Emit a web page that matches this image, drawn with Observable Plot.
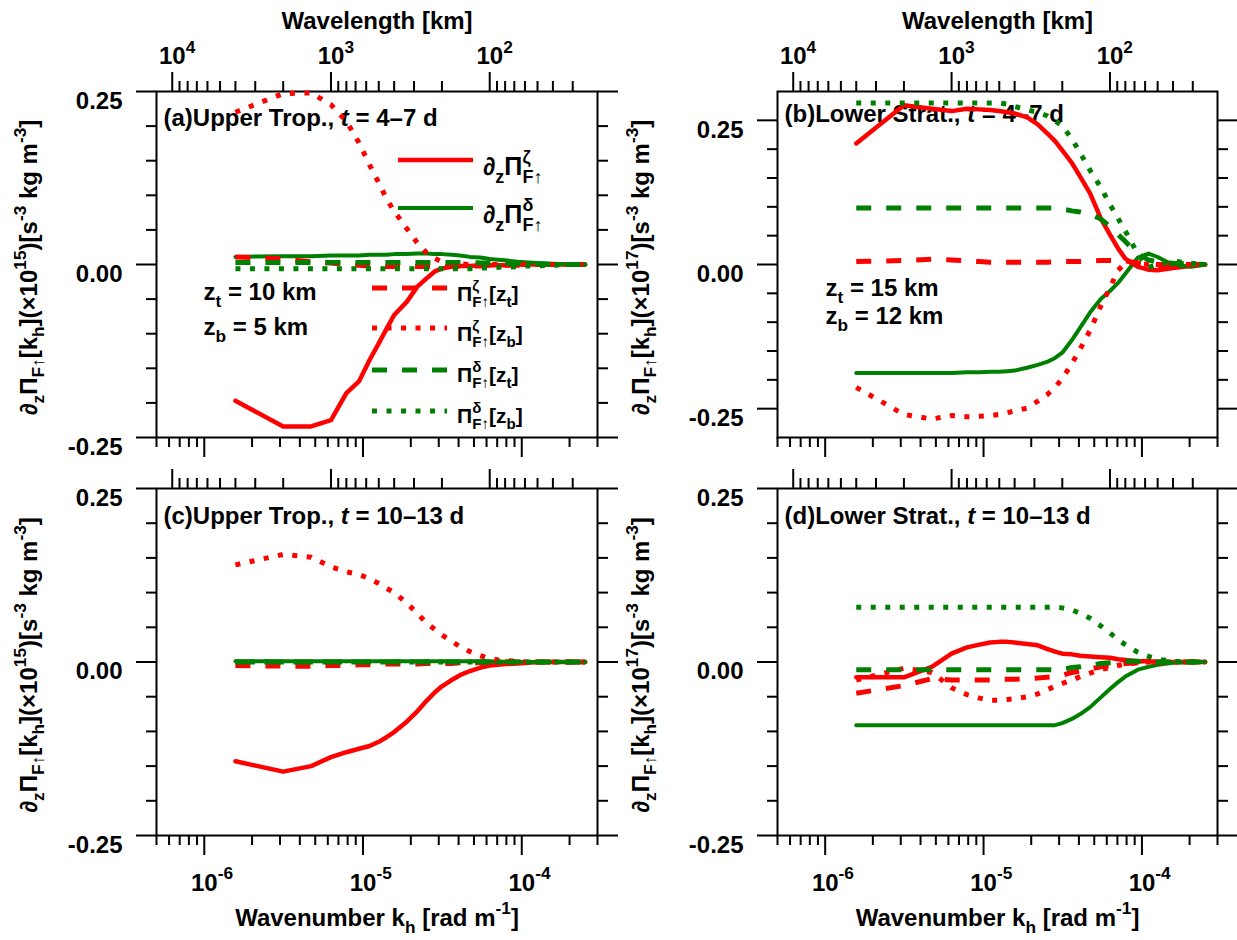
<!DOCTYPE html>
<html>
<head>
<meta charset="utf-8">
<script src="https://cdn.jsdelivr.net/npm/d3@7"></script>
<script src="https://cdn.jsdelivr.net/npm/@observablehq/plot@0.6"></script>
<style>
  html, body { margin: 0; padding: 0; background: #fff; }
  #fig { position: relative; width: 1237px; height: 940px; overflow: hidden; background: #fff; }
  #fig svg { position: absolute; }
</style>
</head>
<body>
<div id="fig"></div>
<script>
// ---- horizontal wavenumber grid (rad m^-1): harmonics of a 4000 km domain ----
const kh = [1.5708e-6, 3.1416e-6, 4.7124e-6, 6.2832e-6, 7.854e-6, 9.4248e-6, 1.09956e-5, 1.25664e-5,
  1.41372e-5, 1.5708e-5, 1.88496e-5, 2.19911e-5, 2.51327e-5, 2.82743e-5, 3.14159e-5, 3.61283e-5,
  4.08407e-5, 4.71239e-5, 5.49779e-5, 6.28319e-5, 7.06858e-5, 7.85398e-5, 9.42478e-5, 1.09956e-4,
  1.25664e-4, 1.5708e-4, 2.04204e-4, 2.51327e-4];

// ---- (a) upper troposphere, t = 4-7 d  (x 1e-15) ----
const aDzZeta  = [-0.197, -0.234, -0.234, -0.225, -0.186, -0.169, -0.138, -0.114, -0.092, -0.073, -0.054, -0.032, -0.020, -0.010, -0.006, -0.003, -0.002, -0.002, -0.001, -0.001, -0.001, -0.001, 0, 0, 0, 0, 0, 0];
const aDzDelta = [0.011, 0.012, 0.012, 0.013, 0.013, 0.013, 0.014, 0.014, 0.014, 0.015, 0.015, 0.016, 0.016, 0.015, 0.015, 0.014, 0.013, 0.011, 0.010, 0.008, 0.007, 0.006, 0.004, 0.003, 0.002, 0.001, 0.0003, 0];
const aZetaTop = [0.011, 0.008, 0.004, 0.002, 0.000, -0.001, -0.002, -0.002, -0.003, -0.003, -0.003, -0.003, -0.003, -0.003, -0.003, -0.003, -0.002, -0.002, -0.002, -0.001, -0.001, -0.001, -0.001, 0, 0, 0, 0, 0];
const aZetaBot = [0.220, 0.247, 0.248, 0.231, 0.207, 0.176, 0.144, 0.118, 0.094, 0.077, 0.052, 0.031, 0.017, 0.009, 0.004, 0.002, 0.001, 0, 0, 0, 0, 0, 0, 0, 0, 0, 0, 0];
const aDeltaTop = [0.003, 0.003, 0.003, 0.003, 0.003, 0.003, 0.003, 0.003, 0.003, 0.003, 0.003, 0.003, 0.003, 0.003, 0.003, 0.003, 0.003, 0.003, 0.002, 0.002, 0.002, 0.002, 0.001, 0.001, 0.001, 0, 0, 0];
const aDeltaBot = [-0.006, -0.006, -0.006, -0.006, -0.006, -0.006, -0.006, -0.006, -0.006, -0.006, -0.006, -0.006, -0.006, -0.006, -0.006, -0.006, -0.006, -0.006, -0.005, -0.005, -0.004, -0.004, -0.003, -0.002, -0.002, -0.001, 0, 0];

// ---- (b) lower stratosphere, t = 4-7 d  (x 1e-17) ----
const bDzZeta  = [0.210, 0.276, 0.270, 0.266, 0.270, 0.269, 0.268, 0.266, 0.264, 0.262, 0.255, 0.243, 0.228, 0.214, 0.198, 0.176, 0.152, 0.123, 0.080, 0.052, 0.028, 0.010, -0.004, -0.009, -0.010, -0.006, -0.002, 0];
const bDzDelta = [-0.188, -0.188, -0.188, -0.188, -0.187, -0.187, -0.186, -0.186, -0.185, -0.184, -0.179, -0.174, -0.169, -0.162, -0.153, -0.131, -0.109, -0.083, -0.060, -0.046, -0.032, -0.016, 0.012, 0.019, 0.013, -0.001, -0.004, 0];
const bZetaTop = [0.005, 0.007, 0.009, 0.008, 0.006, 0.005, 0.004, 0.004, 0.004, 0.004, 0.004, 0.004, 0.004, 0.005, 0.005, 0.005, 0.005, 0.006, 0.007, 0.007, 0.007, 0.006, 0.003, 0.001, 0, 0, 0, 0];
const bZetaBot = [-0.213, -0.260, -0.268, -0.262, -0.264, -0.263, -0.262, -0.260, -0.257, -0.254, -0.249, -0.237, -0.226, -0.213, -0.198, -0.172, -0.146, -0.114, -0.072, -0.040, -0.010, 0.003, 0.002, 0, -0.002, -0.001, 0, 0];
const bDeltaTop = [0.098, 0.098, 0.098, 0.098, 0.098, 0.098, 0.098, 0.098, 0.098, 0.098, 0.098, 0.098, 0.098, 0.098, 0.096, 0.093, 0.091, 0.087, 0.079, 0.066, 0.052, 0.040, 0.018, 0.008, 0.004, 0.002, 0.001, 0];
const bDeltaBot = [0.280, 0.280, 0.280, 0.280, 0.280, 0.280, 0.280, 0.280, 0.278, 0.274, 0.268, 0.264, 0.258, 0.249, 0.240, 0.218, 0.193, 0.163, 0.134, 0.104, 0.080, 0.058, 0.018, -0.005, 0.000, 0.006, 0.002, 0];

// ---- (c) upper troposphere, t = 10-13 d  (x 1e-15) ----
const cDzZeta  = [-0.143, -0.158, -0.150, -0.137, -0.130, -0.125, -0.121, -0.115, -0.108, -0.101, -0.086, -0.071, -0.056, -0.044, -0.035, -0.026, -0.019, -0.013, -0.008, -0.005, -0.004, -0.003, -0.002, -0.001, 0, 0, 0, 0];
const cDzDelta = [0.001, 0.001, 0.001, 0.001, 0.001, 0.001, 0.001, 0.001, 0.001, 0.001, 0.001, 0.001, 0.001, 0.001, 0.001, 0.001, 0.001, 0.001, 0.001, 0.001, 0.0005, 0.0005, 0, 0, 0, 0, 0, 0];
const cZetaTop = [-0.005, -0.006, -0.006, -0.005, -0.005, -0.004, -0.004, -0.004, -0.003, -0.003, -0.003, -0.003, -0.002, -0.002, -0.002, -0.002, -0.001, -0.001, -0.001, -0.001, 0, 0, 0, 0, 0, 0, 0, 0];
const cZetaBot = [0.140, 0.155, 0.151, 0.137, 0.130, 0.126, 0.120, 0.113, 0.106, 0.100, 0.085, 0.070, 0.056, 0.047, 0.039, 0.030, 0.022, 0.015, 0.009, 0.005, 0.003, 0.002, 0.001, 0, 0, 0, 0, 0];
const cDeltaTop = [0, 0, 0, 0, 0, 0, 0, 0, 0, 0, 0, 0, 0, 0, 0, 0, 0, 0, 0, 0, 0, 0, 0, 0, 0, 0, 0, 0];
const cDeltaBot = [0, 0, 0, 0, 0, 0, 0, 0, 0, 0, 0, 0, 0, 0, 0, 0, 0, 0, 0, 0, 0, 0, 0, 0, 0, 0, 0, 0];

// ---- (d) lower stratosphere, t = 10-13 d  (x 1e-17) ----
const dDzZeta  = [-0.022, -0.022, -0.007, 0.012, 0.021, 0.025, 0.028, 0.029, 0.029, 0.028, 0.026, 0.024, 0.019, 0.015, 0.012, 0.011, 0.009, 0.008, 0.007, 0.006, 0.004, 0.003, 0.001, 0.001, 0, 0, 0, 0];
const dDzDelta = [-0.091, -0.091, -0.091, -0.091, -0.091, -0.091, -0.091, -0.091, -0.091, -0.091, -0.091, -0.091, -0.091, -0.091, -0.088, -0.082, -0.075, -0.065, -0.051, -0.039, -0.029, -0.021, -0.011, -0.007, -0.004, -0.001, 0, 0];
const dZetaTop = [-0.045, -0.034, -0.024, -0.026, -0.026, -0.026, -0.026, -0.025, -0.025, -0.025, -0.024, -0.023, -0.022, -0.021, -0.019, -0.015, -0.013, -0.010, -0.007, -0.005, -0.003, -0.002, -0.001, 0, 0, 0, 0, 0];
const dZetaBot = [-0.026, -0.009, -0.015, -0.037, -0.047, -0.052, -0.055, -0.055, -0.054, -0.053, -0.050, -0.046, -0.040, -0.035, -0.031, -0.026, -0.021, -0.016, -0.011, -0.008, -0.005, -0.003, -0.001, 0, 0, 0, 0, 0];
const dDeltaTop = [-0.011, -0.011, -0.011, -0.011, -0.011, -0.011, -0.011, -0.011, -0.011, -0.011, -0.011, -0.011, -0.011, -0.011, -0.011, -0.008, -0.007, -0.005, -0.002, -0.001, 0, 0.001, 0.001, 0, 0, 0, 0, 0];
const dDeltaBot = [0.079, 0.079, 0.079, 0.079, 0.079, 0.079, 0.079, 0.079, 0.079, 0.079, 0.079, 0.079, 0.079, 0.079, 0.078, 0.075, 0.070, 0.063, 0.052, 0.042, 0.032, 0.025, 0.014, 0.008, 0.004, 0.001, 0, 0];

// ---- axis ticks ----
const K_DOMAIN = [5e-7, 3e-4];
const K_MAJOR = [1e-6, 1e-5, 1e-4];
const K_MINOR = [5e-7, 6e-7, 7e-7, 8e-7, 9e-7, 2e-6, 3e-6, 4e-6, 5e-6, 6e-6, 7e-6, 8e-6, 9e-6,
  2e-5, 3e-5, 4e-5, 5e-5, 6e-5, 7e-5, 8e-5, 9e-5, 2e-4, 3e-4];
const LAMBDA_MAJOR = [1e4, 1e3, 1e2];                       // km
const LAMBDA_MINOR = [9000, 8000, 7000, 6000, 5000, 4000, 3000, 2000,
  900, 800, 700, 600, 500, 400, 300, 200, 90, 80, 70, 60, 50, 40, 30];
const Y_MAJOR = [-0.25, 0, 0.25];
const Y_MINOR = [-0.2, -0.15, -0.1, -0.05, 0.05, 0.1, 0.15, 0.2];

// ---- labels ----
const LABEL_DZ_ZETA = "∂_{z}Π^{ζ}_{F↑}";
const LABEL_DZ_DELTA = "∂_{z}Π^{δ}_{F↑}";
const LABEL_ZETA_TOP = "Π^{ζ}_{F↑}[z_{t}]";
const LABEL_ZETA_BOT = "Π^{ζ}_{F↑}[z_{b}]";
const LABEL_DELTA_TOP = "Π^{δ}_{F↑}[z_{t}]";
const LABEL_DELTA_BOT = "Π^{δ}_{F↑}[z_{b}]";

const FONT = '"Liberation Sans", Arial, Helvetica, sans-serif';
const RED = "#ff0000", GREEN = "#008000";
const kOfKm = km => 2 * Math.PI / (km * 1000);   // wavelength (km) -> wavenumber (rad/m)

// line styles, one per quantity
const STYLE = {
  dzZeta:   {color: RED,   width: 4.5, dash: null,    label: LABEL_DZ_ZETA},
  dzDelta:  {color: GREEN, width: 4,   dash: null,    label: LABEL_DZ_DELTA},
  zetaTop:  {color: RED,   width: 5,   dash: "15,15", label: LABEL_ZETA_TOP},
  zetaBot:  {color: RED,   width: 5,   dash: "5,9.5", label: LABEL_ZETA_BOT},
  deltaTop: {color: GREEN, width: 5,   dash: "15,15", label: LABEL_DELTA_TOP},
  deltaBot: {color: GREEN, width: 5,   dash: "5,9.5", label: LABEL_DELTA_BOT}
};

const panels = [
  {left: 0, top: 0, width: 620, height: 466, margins: [156, 23, 91, 29], yDomain: [-0.25, 0.25],
   yTitle: "∂_{z}Π_{F↑}[k_{h}](×10^{15})[s^{-3} kg m^{-3}]", yTitleDx: -127,
   title: "(a)Upper Trop., *t* = 4–7 d", titleDy: 27,
   notes: [["z_{t} = 10 km", 47, 201], ["z_{b} = 5 km", 47, 236]],
   topLabels: true, bottomLabels: false, legend: true,
   data: {dzZeta: aDzZeta, dzDelta: aDzDelta, zetaTop: aZetaTop, zetaBot: aZetaBot, deltaTop: aDeltaTop, deltaBot: aDeltaBot}},
  {left: 620, top: 0, width: 617, height: 466, margins: [157, 20, 91, 29], yDomain: [-0.3, 0.3],
   yTitle: "∂_{z}Π_{F↑}[k_{h}](×10^{17})[s^{-3} kg m^{-3}]", yTitleDx: -136,
   title: "(b)Lower Strat., *t* = 4–7 d", titleDy: 22.5,
   notes: [["z_{t} = 15 km", 48, 196.5], ["z_{b} = 12 km", 48, 225]],
   topLabels: true, bottomLabels: false, legend: false,
   data: {dzZeta: bDzZeta, dzDelta: bDzDelta, zetaTop: bZetaTop, zetaBot: bZetaBot, deltaTop: bDeltaTop, deltaBot: bDeltaBot}},
  {left: 0, top: 466, width: 620, height: 474, margins: [156, 23, 22, 105], yDomain: [-0.25, 0.25],
   yTitle: "∂_{z}Π_{F↑}[k_{h}](×10^{15})[s^{-3} kg m^{-3}]", yTitleDx: -127,
   title: "(c)Upper Trop., *t* = 10–13 d", titleDy: 28,
   notes: [], topLabels: false, bottomLabels: true, legend: false,
   data: {dzZeta: cDzZeta, dzDelta: cDzDelta, zetaTop: cZetaTop, zetaBot: cZetaBot, deltaTop: cDeltaTop, deltaBot: cDeltaBot}},
  {left: 620, top: 466, width: 617, height: 474, margins: [157, 20, 22, 105], yDomain: [-0.25, 0.25],
   yTitle: "∂_{z}Π_{F↑}[k_{h}](×10^{17})[s^{-3} kg m^{-3}]", yTitleDx: -136,
   title: "(d)Lower Strat., *t* = 10–13 d", titleDy: 28,
   notes: [], topLabels: false, bottomLabels: true, legend: false,
   data: {dzZeta: dDzZeta, dzDelta: dDzDelta, zetaTop: dZetaTop, zetaBot: dZetaBot, deltaTop: dDeltaTop, deltaBot: dDeltaBot}}
];

// drawing order of the curves
const ORDER = ["dzZeta", "dzDelta", "zetaTop", "zetaBot", "deltaTop", "deltaBot"];

const pow10Label = v => `10^{${Math.round(Math.log10(v))}}`;
const yTickLabel = v => v.toFixed(2);

function makePanel(p) {
  const [ml, mr, mt, mb] = p.margins;
  const tick = {stroke: "black", strokeWidth: 2, fill: "none", label: null};
  const txt = {lineAnchor: "middle"};
  const marks = [
    Plot.frame({stroke: "black", strokeWidth: 2}),
    Plot.axisX(K_MAJOR, {...tick, anchor: "bottom", tickSize: 20}),
    Plot.axisX(K_MINOR, {...tick, anchor: "bottom", tickSize: 10}),
    Plot.axisX(LAMBDA_MAJOR.map(kOfKm), {...tick, anchor: "top", tickSize: 20}),
    Plot.axisX(LAMBDA_MINOR.map(kOfKm), {...tick, anchor: "top", tickSize: 11}),
    Plot.axisY(Y_MAJOR, {...tick, anchor: "left", tickSize: 20}),
    Plot.axisY(Y_MINOR, {...tick, anchor: "left", tickSize: 10}),
    Plot.axisY(Y_MAJOR, {...tick, anchor: "right", tickSize: 20}),
    Plot.axisY(Y_MINOR, {...tick, anchor: "right", tickSize: 10}),
    Plot.text(Y_MAJOR, {...txt, y: d => d, frameAnchor: "left", textAnchor: "end", dx: -34, dy: 9.5, text: yTickLabel}),
    Plot.text([p.yTitle], {...txt, frameAnchor: "left", textAnchor: "middle", rotate: -90, dx: p.yTitleDx, dy: 3, text: d => d}),
    Plot.text([p.title], {...txt, frameAnchor: "top-left", textAnchor: "start", dx: 7, dy: p.titleDy, text: d => d})
  ];
  for (const [label, dx, dy] of p.notes) {
    marks.push(Plot.text([label], {...txt, frameAnchor: "top-left", textAnchor: "start", dx, dy, text: d => d}));
  }
  if (p.topLabels) {
    marks.push(
      Plot.text(LAMBDA_MAJOR, {...txt, x: kOfKm, frameAnchor: "top", textAnchor: "start", dx: -13.3, dy: -35, text: pow10Label}),
      Plot.text(["Wavelength [km]"], {...txt, frameAnchor: "top", textAnchor: "middle", dy: -70, text: d => d})
    );
  }
  if (p.bottomLabels) {
    marks.push(
      Plot.text(K_MAJOR, {...txt, x: d => d, frameAnchor: "bottom", textAnchor: "start", dx: -13.3, dy: 47.5, text: pow10Label}),
      Plot.text(["Wavenumber k_{h} [rad m^{-1}]"], {...txt, frameAnchor: "bottom", textAnchor: "middle", dy: 82.5, text: d => d})
    );
  }
  for (const key of ORDER) {
    const s = STYLE[key];
    const rows = kh.map((k, i) => ({k, v: p.data[key][i]}));
    marks.push(Plot.line(rows, {
      x: "k", y: "v", stroke: s.color, strokeWidth: s.width,
      strokeDasharray: s.dash ?? undefined,
      strokeLinecap: s.dash ? "butt" : "round", strokeLinejoin: "round"
    }));
  }
  const svg = Plot.plot({
    width: p.width, height: p.height,
    marginLeft: ml, marginRight: mr, marginTop: mt, marginBottom: mb,
    x: {type: "log", domain: K_DOMAIN, axis: null, label: null},
    y: {domain: p.yDomain, axis: null, label: null},
    style: {fontFamily: FONT, fontSize: "24px", fontWeight: "bold", color: "black",
            background: "transparent", overflow: "visible"},
    marks
  });
  svg.style.left = p.left + "px";
  svg.style.top = p.top + "px";
  return svg;
}

// legend layout inside panel (a), in that panel's pixel frame
const LEGEND = [
  {key: "dzZeta",   x1: 398, x2: 473, y: 160, tx: 483, ty: 175, size: 25},
  {key: "dzDelta",  x1: 398, x2: 473, y: 208, tx: 483, ty: 223, size: 25},
  {key: "zetaTop",  x1: 372, x2: 447, y: 288, tx: 457, ty: 301, size: 21},
  {key: "zetaBot",  x1: 372, x2: 447, y: 328, tx: 457, ty: 341, size: 21},
  {key: "deltaTop", x1: 372, x2: 447, y: 370, tx: 457, ty: 382, size: 21},
  {key: "deltaBot", x1: 372, x2: 447, y: 411, tx: 457, ty: 423, size: 21}
];

function drawLegend(svg) {
  const g = d3.select(svg).append("g");
  for (const item of LEGEND) {
    const s = STYLE[item.key];
    g.append("line")
      .attr("x1", item.x1).attr("x2", item.x2).attr("y1", item.y).attr("y2", item.y)
      .attr("stroke", s.color).attr("stroke-width", s.width)
      .attr("stroke-dasharray", s.dash)
      .attr("stroke-linecap", "butt");
    g.append("text")
      .attr("x", item.tx).attr("y", item.ty)
      .attr("font-size", item.size).attr("text-anchor", "start")
      .attr("fill", "black")
      .text(s.label);
  }
}

// Minimal markup for scientific labels: ^{sup}, _{sub}, ^{a}_{b} stacked, *italic*
function parseMarkup(str) {
  const out = [];
  let buf = "", italic = false, i = 0;
  const flush = () => { if (buf) out.push({text: buf, kind: "n", italic}); buf = ""; };
  while (i < str.length) {
    const c = str[i];
    if ((c === "^" || c === "_") && str[i + 1] === "{") {
      flush();
      const j = str.indexOf("}", i);
      out.push({text: str.slice(i + 2, j), kind: c === "^" ? "sup" : "sub", italic});
      i = j + 1;
    } else if (c === "*") {
      flush(); italic = !italic; i++;
    } else { buf += c; i++; }
  }
  flush();
  return out;
}

function richText(svg) {
  const NS = "http://www.w3.org/2000/svg";
  for (const el of svg.querySelectorAll("text")) {
    const src = el.textContent;
    if (!/[\^_]\{|\*/.test(src)) continue;
    const fs = parseFloat(getComputedStyle(el).fontSize) || 24;
    const parts = parseMarkup(src);
    while (el.firstChild) el.removeChild(el.firstChild);
    let shift = 0, supW = 0, prev = "n";
    for (const part of parts) {
      const t = document.createElementNS(NS, "tspan");
      const target = part.kind === "sup" ? -0.48 * fs : part.kind === "sub" ? 0.3 * fs : 0;
      if (target !== shift) t.setAttribute("dy", target - shift);
      shift = target;
      if (part.kind !== "n") t.setAttribute("font-size", 0.72 * fs);
      if (part.italic) t.setAttribute("font-style", "italic");
      if (part.kind === "sub" && prev === "sup") t.setAttribute("dx", -supW);
      t.textContent = part.text;
      el.appendChild(t);
      if (part.kind === "sup") supW = t.getComputedTextLength();
      prev = part.kind;
    }
  }
}

const fig = document.getElementById("fig");
panels.forEach(p => {
  const svg = makePanel(p);
  fig.appendChild(svg);
  if (p.legend) drawLegend(svg);
  richText(svg);
});
</script>
</body>
</html>
